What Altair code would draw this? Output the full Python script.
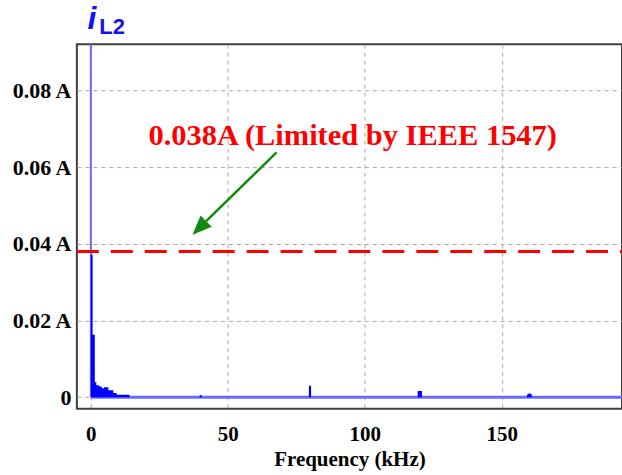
import altair as alt
import pandas as pd

# ---- data ----
# harmonic spectrum of i_L2 (frequency in kHz, amplitude in A), step shaped
spec_freq = [0.0, 0.65, 1.45, 2.0, 3.0, 4.0, 4.8, 6.4, 8.2, 9.4, 14.1,
             39.7, 40.5, 79.6, 80.4, 119.3, 120.9, 159.2, 159.7, 160.6, 161.0, 193.9]
spec_amp = [0.0371, 0.0163, 0.0039, 0.0031, 0.0028, 0.0023, 0.0026, 0.0018, 0.0011, 0.0006, 0.0,
            0.0005, 0.0, 0.0030, 0.0, 0.0016, 0.0, 0.0007, 0.00096, 0.0007, 0.0, 0.0]
# fundamental component (far above the visible range, clipped)
fund_freq = [0.0]
fund_amp = [0.12]
# IEEE 1547 limit
limit_amp = [0.038]
limit_label = ["0.038A (Limited by IEEE 1547)"]
label_pos = [95.6, 0.0657]
arrow_start = [67.8, 0.0638]
arrow_base = [42.1, 0.0459]
arrow_head = [39.6, 0.0441]
title_i = ["i"]
title_sub = ["L2"]
title_i_pos = [-1.25, 0.0959]
title_sub_pos = [3.1, 0.0948]

x_ticks = [0, 50, 100, 150]
y_ticks = [0, 0.02, 0.04, 0.06, 0.08]
x_domain = [-5.1, 193.9]
y_domain = [-0.00302, 0.0920]

xs = alt.Scale(domain=x_domain, nice=False, zero=False)
ys = alt.Scale(domain=y_domain, nice=False, zero=False)

x_axis = alt.Axis(values=x_ticks, title="Frequency (kHz)", labelPadding=15,
                  titlePadding=4, labelFlush=False)
y_axis = alt.Axis(values=y_ticks, title=None, labelPadding=6, labelFontSize=22,
                  labelExpr="datum.value == 0 ? '0' : format(datum.value, '.2f') + ' A'")


def X(field="f"):
    return alt.X(f"{field}:Q", scale=xs, axis=x_axis)


def Y(field="a"):
    return alt.Y(f"{field}:Q", scale=ys, axis=y_axis)


spec_df = pd.DataFrame({"f": spec_freq, "a": spec_amp})
fund_df = pd.DataFrame({"f": fund_freq, "a": [0.0], "a2": fund_amp})
base_df = pd.DataFrame({"f": [0.0], "f2": [x_domain[1]], "a": [0.0]})
limit_df = pd.DataFrame({"f": [x_domain[0]], "f2": [x_domain[1]], "a": limit_amp})
label_df = pd.DataFrame({"f": [label_pos[0]], "a": [label_pos[1]], "t": limit_label})
arrow_df = pd.DataFrame({"f": [arrow_start[0]], "a": [arrow_start[1]],
                         "f2": [arrow_base[0]], "a2": [arrow_base[1]]})
head_df = pd.DataFrame({"f": [arrow_head[0]], "a": [arrow_head[1]]})
ti_df = pd.DataFrame({"f": [title_i_pos[0]], "a": [title_i_pos[1]], "t": title_i})
ts_df = pd.DataFrame({"f": [title_sub_pos[0]], "a": [title_sub_pos[1]], "t": title_sub})

light_blue = "#6a6aff"

baseline = alt.Chart(base_df).mark_rule(color=light_blue, strokeWidth=3).encode(
    x=X(), x2="f2:Q", y=Y())
fund = alt.Chart(fund_df).mark_rule(color=light_blue, strokeWidth=2, clip=True).encode(
    x=X(), y=Y(), y2="a2:Q")
area = alt.Chart(spec_df).mark_area(color="#0000ff", interpolate="step-after",
                                    clip=True, opacity=1).encode(x=X(), y=Y())
limit = alt.Chart(limit_df).mark_rule(color="#ff0000", strokeWidth=3,
                                      strokeDash=[22, 12]).encode(x=X(), x2="f2:Q", y=Y())
label = alt.Chart(label_df).mark_text(font="Liberation Serif", fontWeight="bold",
                                      fontSize=30.5, color="#ff0000", align="center",
                                      baseline="alphabetic").encode(x=X(), y=Y(), text="t:N")
arrow = alt.Chart(arrow_df).mark_rule(color="#128a12", strokeWidth=2.5).encode(
    x=X(), y=Y(), x2="f2:Q", y2="a2:Q")
head = alt.Chart(head_df).mark_point(shape="M0,-1L-0.82,1L0.82,1Z", size=376, filled=True,
                                     color="#128a12", opacity=1, angle=225).encode(x=X(), y=Y())
ti = alt.Chart(ti_df).mark_text(font="Liberation Sans", fontWeight="bold", fontStyle="italic",
                                fontSize=32, color="#1010ff", align="left",
                                baseline="alphabetic").encode(x=X(), y=Y(), text="t:N")
ts = alt.Chart(ts_df).mark_text(font="Liberation Sans", fontWeight="bold",
                                fontSize=22, color="#1010ff", align="left",
                                baseline="alphabetic").encode(x=X(), y=Y(), text="t:N")

chart = alt.layer(baseline, fund, area, limit, arrow, head, label, ti, ts).properties(
    width=546, height=365,
    autosize=alt.AutoSizeParams(type="none"),
    padding={"left": 77, "top": 44, "right": 0, "bottom": 66},
    background="white",
).configure_view(
    stroke="#404040", strokeWidth=2
).configure_axis(
    grid=True, gridColor="#a8a8a8", gridDash=[4, 4], gridWidth=1,
    domain=False, ticks=False, tickSize=0,
    labelFont="Liberation Serif", labelFontWeight="bold", labelFontSize=21, labelColor="black",
    titleFont="Liberation Serif", titleFontWeight="bold", titleFontSize=21, titleColor="black",
)

chart.save("out.html", embed_options={"renderer": "svg", "actions": False})
